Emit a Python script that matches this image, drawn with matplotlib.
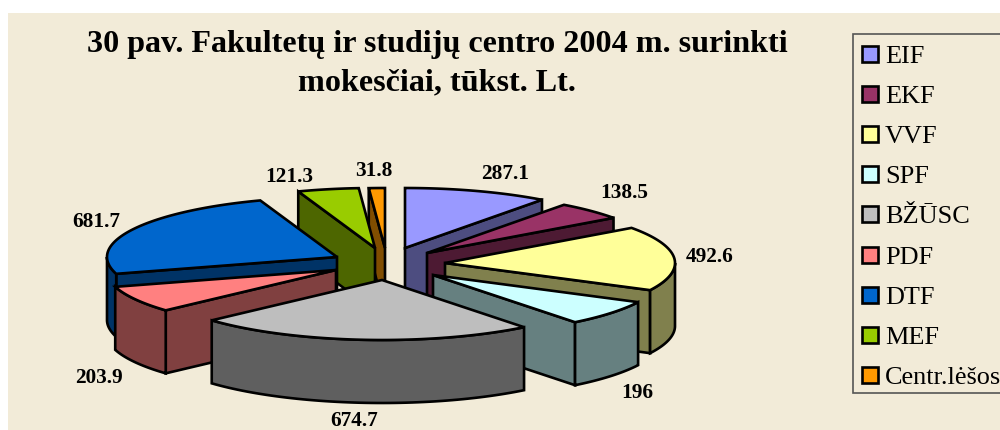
import numpy as np
import matplotlib
matplotlib.use('Agg')
import matplotlib.pyplot as plt
from matplotlib.patches import Polygon, Rectangle

plt.rcParams['font.family'] = ['Liberation Serif', 'DejaVu Serif']

title = '30 pav. Fakultetų ir studijų centro 2004 m. surinkti\nmokesčiai, tūkst. Lt.'
names = ['EIF', 'EKF', 'VVF', 'SPF', 'BŽŪSC', 'PDF', 'DTF', 'MEF', 'Centr.lėšos']
values = [287.1, 138.5, 492.6, 196, 674.7, 203.9, 681.7, 121.3, 31.8]
colors = ['#9999FF', '#993366', '#FFFF99', '#CCFFFF', '#BEBEBE', '#FF8080', '#0066CC', '#99CC00', '#FF9900']

## LAYOUT (pixels)
bg = '#F2EBD8'
rx, ry, depth = 230, 60, 63
apex = [(405, 248), (427, 253), (445, 263), (433, 275), (382, 280),
        (336, 270), (337, 257), (375, 248), (385, 248)]
label_xy = [(505, 174), (624, 193), (710, 257), (637, 393), (354, 421),
            (99, 378), (96, 222), (289, 177), (374, 171)]
draw_order = [8, 7, 0, 1, 6, 5, 2, 3, 4]

fig = plt.figure(figsize=(10, 4.3), dpi=100, facecolor='white')
ax = fig.add_axes([0, 0, 1, 1])
ax.set_xlim(0, 1000)
ax.set_ylim(430, 0)
ax.axis('off')

ax.add_patch(Rectangle((8, 13), 992, 417, fc=bg, ec='none', zorder=0))


def rim(a, cx, cy):
    return np.column_stack([cx + rx * np.sin(a), cy - ry * np.cos(a)])


def poly(pts, col, z):
    ax.add_patch(Polygon(pts, closed=True, fc=col, ec='black', lw=1.9, joinstyle='miter', zorder=z))


## PIE SLICES
stops = np.radians(np.cumsum([0] + values) / sum(values) * 360)
z = 1
for i in draw_order:
    a0, a1 = stops[i], stops[i + 1]
    cx, cy = apex[i]
    wall = tuple(c * 0.5 for c in matplotlib.colors.to_rgb(colors[i]))
    down = np.array([0, depth])
    p = np.array([[cx, cy]])

    # straight wall on the side that faces the viewer
    edges = []
    if a1 < np.pi:
        edges.append(a1)
    if a0 > np.pi:
        edges.append(a0)
    for e in edges:
        r = rim(np.array([e]), cx, cy)
        poly(np.vstack([p, r, r + down, p + down]), wall, z)
        z += 1

    # curved outer wall, only the front half of the ellipse
    lo, hi = max(a0, np.pi / 2), min(a1, 3 * np.pi / 2)
    if lo < hi:
        r = rim(np.linspace(lo, hi, 60), cx, cy)
        poly(np.vstack([r, (r + down)[::-1]]), wall, z)
        z += 1

    # top face
    poly(np.vstack([p, rim(np.linspace(a0, a1, 80), cx, cy)]), colors[i], z)
    z += 1

## DATA LABELS
for v, (x, y) in zip(values, label_xy):
    ax.text(x, y, f'{v:g}', ha='center', va='center', fontsize=15.3, fontweight='bold', color='black', zorder=50)

## TITLE
ax.text(437, 64, title, ha='center', va='center', fontsize=23.1, fontweight='bold',
        linespacing=1.43, color='black', zorder=50)

## LEGEND
ax.add_patch(Rectangle((853, 34), 160, 359, fc=bg, ec='#555555', lw=1.2, zorder=40))
for i, name in enumerate(names):
    y = 46 + i * 40.1
    ax.add_patch(Rectangle((862, y), 16, 16, fc=colors[i], ec='black', lw=1.9, joinstyle='miter', zorder=41))
    ax.text(885, y + 11, name, ha='left', va='center', fontsize=18.9, color='black', zorder=41)

fig.savefig('out.png', dpi=100, facecolor='white')
